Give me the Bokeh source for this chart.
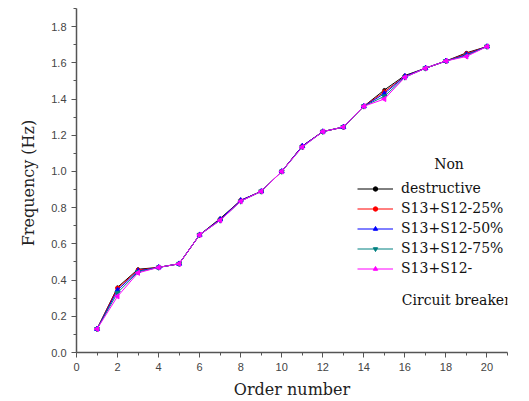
from bokeh.plotting import figure
from bokeh.models import Range1d, FixedTicker, Legend, LegendItem, Label
from bokeh.embed import file_html
from bokeh.resources import INLINE
import math

# Modal frequencies per order for each damage case
order = list(range(1, 21))
non_destructive = [0.13, 0.36, 0.46, 0.47, 0.49, 0.65, 0.74, 0.84, 0.89, 1.00,
                   1.14, 1.22, 1.245, 1.36, 1.45, 1.53, 1.57, 1.61, 1.655, 1.69]
s13_s12_25 = [0.13, 0.355, 0.455, 0.47, 0.49, 0.65, 0.735, 0.84, 0.89, 1.00,
              1.14, 1.22, 1.245, 1.36, 1.44, 1.525, 1.57, 1.61, 1.65, 1.69]
s13_s12_50 = [0.13, 0.345, 0.45, 0.47, 0.49, 0.65, 0.735, 0.84, 0.89, 1.00,
              1.14, 1.22, 1.245, 1.36, 1.43, 1.525, 1.57, 1.61, 1.645, 1.69]
s13_s12_75 = [0.13, 0.33, 0.445, 0.47, 0.49, 0.65, 0.73, 0.835, 0.89, 1.00,
              1.135, 1.22, 1.245, 1.36, 1.415, 1.52, 1.57, 1.61, 1.64, 1.69]
s13_s12_break = [0.13, 0.31, 0.44, 0.47, 0.49, 0.65, 0.73, 0.835, 0.89, 1.00,
                 1.135, 1.22, 1.245, 1.36, 1.40, 1.52, 1.57, 1.61, 1.635, 1.69]

# Legend names are wrapped over two lines: (first line, legend line, last line)
names = [("Non", "destructive", None),
         (None, "S13+S12-25%", None),
         (None, "S13+S12-50%", None),
         (None, "S13+S12-75%", None),
         (None, "S13+S12-", "Circuit breaker")]

x_ticks = list(range(0, 21, 2))
y_ticks = [0.0, 0.2, 0.4, 0.6, 0.8, 1.0, 1.2, 1.4, 1.6, 1.8]

SERIF = "DejaVu Serif"

p = figure(width=529, height=401, output_backend="svg", toolbar_location=None,
           x_range=Range1d(0, 21), y_range=Range1d(0, 1.9),
           min_border_left=76, min_border_right=22, min_border_top=8,
           min_border_bottom=48)
p.outline_line_color = None
p.grid.visible = False

styles = [("black", "circle", 3, 0.0),
          ("red", "circle", 4, 0.0),
          ("blue", "triangle", 5, 0.0),
          ("#008080", "inverted_triangle", 5, 0.0),
          ("magenta", "triangle", 5, math.pi / 2)]
data = [non_destructive, s13_s12_25, s13_s12_50, s13_s12_75, s13_s12_break]

items = []
for (first, main, last), ys, (color, marker, size, ang) in zip(names, data, styles):
    ln = p.line(order, ys, line_color=color, line_width=1)
    sc = p.scatter(order, ys, marker=marker, size=size, angle=ang,
                   fill_color=color, line_color=color)
    items.append(LegendItem(label=main, renderers=[ln, sc]))

legend = Legend(items=items, location=(281, 74), border_line_color=None,
                background_fill_alpha=0, padding=0, margin=0, spacing=0,
                glyph_width=36, glyph_height=11, label_standoff=8,
                label_height=20)
legend.label_text_font = SERIF
legend.label_text_font_size = "14px"
legend.label_text_color = "#111111"
p.add_layout(legend, "center")

# wrapped parts of the two long legend names
non_lbl = Label(x=18.15, y=1.042, text=names[0][0], text_align="center",
                text_baseline="middle")
cb_lbl = Label(x=15.85, y=0.292, text=names[4][2], text_align="left",
               text_baseline="middle")
for lbl in (non_lbl, cb_lbl):
    lbl.text_font = SERIF
    lbl.text_font_size = "14px"
    lbl.text_color = "#111111"
    p.add_layout(lbl)

for ax in (p.xaxis, p.yaxis):
    ax.axis_line_color = "#555555"
    ax.axis_line_width = 1.5
    ax.major_tick_line_color = "#555555"
    ax.minor_tick_line_color = "#555555"
    ax.major_tick_out = 5
    ax.major_tick_in = 0
    ax.minor_tick_out = 3
    ax.minor_tick_in = 0
    ax.major_label_text_font_size = "11px"
    ax.major_label_text_color = "#444444"
    ax.axis_label_text_font_size = "16px"
    ax.axis_label_text_font_style = "normal"
    ax.axis_label_text_color = "#222222"

p.xaxis.axis_label_text_font = SERIF
p.yaxis.axis_label_text_font = SERIF

p.xaxis.ticker = FixedTicker(ticks=x_ticks, minor_ticks=list(range(1, 22, 2)))
p.yaxis.ticker = FixedTicker(ticks=y_ticks,
                             minor_ticks=[0.1, 0.3, 0.5, 0.7, 0.9, 1.1, 1.3, 1.5, 1.7, 1.9])
p.yaxis.major_label_overrides = {t: f"{t:.1f}" for t in y_ticks}
p.xaxis.axis_label = "Order number"
p.yaxis.axis_label = "Frequency  (Hz)"
p.xaxis.axis_label_standoff = 6
p.yaxis.axis_label_standoff = 10

open("out.html", "w").write(file_html(p, INLINE))
